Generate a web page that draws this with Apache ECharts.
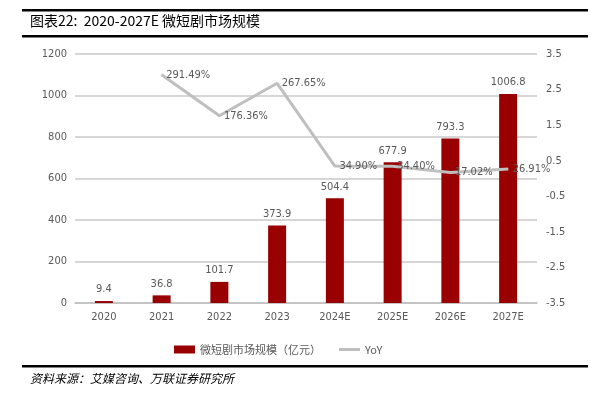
<!DOCTYPE html>
<html>
<head>
<meta charset="utf-8">
<script src="https://cdn.jsdelivr.net/npm/echarts@6/dist/echarts.min.js"></script>
<style>
  html, body { margin: 0; padding: 0; background: #fff; }
  #chart { width: 609px; height: 397px; }
</style>
</head>
<body>
<div id="chart"></div>
<script>
  // data
  var years = ['2020', '2021', '2022', '2023', '2024E', '2025E', '2026E', '2027E'];
  var marketSize = [9.4, 36.8, 101.7, 373.9, 504.4, 677.9, 793.3, 1006.8];
  var yoy = ['-', 2.9149, 1.7636, 2.6765, 0.3490, 0.3440, 0.1702, 0.2691];
  var rightTicks = [-3.5, -2.5, -1.5, -0.5, 0.5, 1.5, 2.5, 3.5];

  var numFont = '"Liberation Sans Narrow", "DejaVu Sans Condensed", sans-serif';
  var cjkFont = '"Noto Sans CJK SC", sans-serif';
  var grey = '#595959';

  var myChart = echarts.init(document.getElementById('chart'));
  myChart.setOption({
    animation: false,
    grid: { left: 75, right: 72, top: 54, bottom: 94 },
    legend: {
      left: 169,
      top: 339,
      itemGap: 18,
      itemWidth: 21,
      itemHeight: 8,
      textStyle: { color: grey, fontSize: 11, fontFamily: cjkFont },
      data: [
        { name: '微短剧市场规模（亿元）', icon: 'rect' },
        { name: 'YoY', icon: 'path://M0,0 L21,0 L21,3 L0,3 Z' }
      ]
    },
    xAxis: {
      type: 'category',
      data: years,
      axisLine: { lineStyle: { color: '#bfbfbf', width: 1.5 } },
      axisTick: { show: false },
      axisLabel: { color: grey, fontSize: 11, fontFamily: numFont, margin: 9 }
    },
    yAxis: [
      {
        type: 'value',
        min: 0, max: 1200, interval: 200,
        axisLine: { show: false },
        axisTick: { show: false },
        splitLine: { lineStyle: { color: '#c8c8c8', width: 1.5 } },
        axisLabel: {
          color: grey, fontSize: 11, fontFamily: numFont, margin: 8,
          formatter: function (v) { return String(v); }
        }
      },
      {
        type: 'value',
        min: -3.5, max: 3.5, interval: 1,
        axisLine: { show: false },
        axisTick: { show: false },
        splitLine: { show: false },
        axisLabel: {
          color: grey, fontSize: 11, fontFamily: numFont, margin: 9,
          customValues: rightTicks,
          formatter: function (v) { return v.toFixed(1); }
        }
      }
    ],
    series: [
      {
        name: '微短剧市场规模（亿元）',
        type: 'bar',
        data: marketSize,
        barWidth: 18,
        itemStyle: { color: '#990000' },
        label: {
          show: true, position: 'top', distance: 6,
          color: grey, fontSize: 11, fontFamily: numFont
        }
      },
      {
        name: 'YoY',
        type: 'line',
        yAxisIndex: 1,
        data: yoy,
        symbol: 'circle',
        symbolSize: 1,
        showSymbol: true,
        z: 5,
        lineStyle: { color: '#bfbfbf', width: 3 },
        itemStyle: { color: '#bfbfbf' },
        label: {
          show: true, position: 'right', distance: 4,
          color: grey, fontSize: 11, fontFamily: numFont,
          formatter: function (p) { return (p.value * 100).toFixed(2) + '%'; }
        }
      }
    ],
    graphic: [
      { type: 'rect', shape: { x: 22, y: 9, width: 566, height: 2.5 }, style: { fill: '#000' } },
      { type: 'text', left: 30, top: 14,
        style: { text: '图表22:  2020-2027E 微短剧市场规模', fill: '#000', fontSize: 14, fontFamily: cjkFont } },
      { type: 'rect', shape: { x: 22, y: 35, width: 566, height: 2.5 }, style: { fill: '#000' } },
      { type: 'rect', shape: { x: 22, y: 365, width: 566, height: 2.5 }, style: { fill: '#000' } },
      { type: 'text', left: 30, top: 372,
        style: { text: '资料来源：艾媒咨询、万联证券研究所', fill: '#000', fontSize: 12, fontStyle: 'italic', fontFamily: cjkFont } }
    ]
  });
</script>
</body>
</html>
